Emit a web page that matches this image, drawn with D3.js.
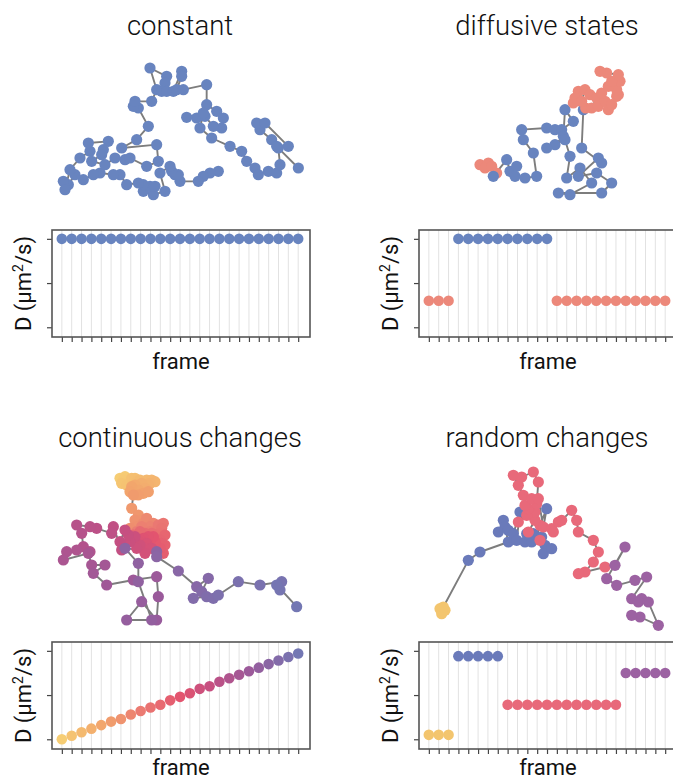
<!DOCTYPE html>
<html>
<head>
<meta charset="utf-8">
<script src="https://cdn.jsdelivr.net/npm/d3@7"></script>
<style>
  body { margin: 0; background: #fff; }
  svg { display: block; }
</style>
</head>
<body>
<div id="chart"></div>
<script>
// ---- data ----
const frames = [0, 1, 2, 3, 4, 5, 6, 7, 8, 9, 10, 11, 12, 13, 14, 15, 16, 17, 18, 19, 20, 21, 22, 23, 24];
const dTicks = [0, 0.5, 1];

// diffusion coefficient per frame (arbitrary units)
const dConstant = [1, 1, 1, 1, 1, 1, 1, 1, 1, 1, 1, 1, 1, 1, 1, 1, 1, 1, 1, 1, 1, 1, 1, 1, 1];
const dDiffusive = [0.3, 0.3, 0.3, 1, 1, 1, 1, 1, 1, 1, 1, 1, 1,
    0.3, 0.3, 0.3, 0.3, 0.3, 0.3, 0.3, 0.3, 0.3, 0.3, 0.3, 0.3];
const stateDiffusive = ['slow', 'slow', 'slow', 'fast', 'fast', 'fast', 'fast', 'fast', 'fast', 'fast', 'fast', 'fast', 'fast',
    'slow', 'slow', 'slow', 'slow', 'slow', 'slow', 'slow', 'slow', 'slow', 'slow', 'slow', 'slow'];
const dContinuous = [0.00, 0.04, 0.08, 0.12, 0.16, 0.20, 0.23, 0.28, 0.32, 0.36, 0.39, 0.44, 0.48,
    0.52, 0.57, 0.60, 0.65, 0.69, 0.73, 0.77, 0.81, 0.85, 0.89, 0.93, 0.97];
const dRandom = [0.05, 0.05, 0.05, 0.94, 0.94, 0.94, 0.94, 0.94,
    0.39, 0.39, 0.39, 0.39, 0.39, 0.39, 0.39, 0.39, 0.39, 0.39, 0.39, 0.39,
    0.75, 0.75, 0.75, 0.75, 0.75];
const stateRandom = ['a', 'a', 'a', 'b', 'b', 'b', 'b', 'b',
    'c', 'c', 'c', 'c', 'c', 'c', 'c', 'c', 'c', 'c', 'c', 'c',
    'd', 'd', 'd', 'd', 'd'];

// trajectories, positions in a.u. (x right, y down)
const trajConstant = [[505,340],[480,345],[460,355],[445,370],[390,370],[375,350],[385,350],[365,340],[360,325],[330,345],
    [345,400],[310,410],[280,400],[300,385],[315,385],[280,380],[265,375],[230,380],[210,350],[190,350],
    [150,345],[130,350],[100,365],[75,350],[55,380],[40,370],[45,395],[60,335],[90,300],[120,280],
    [115,255],[175,250],[160,275],[155,290],[125,310],[165,320],[195,300],[225,305],[240,300],[290,325],
    [325,310],[320,260],[215,270],[260,245],[295,205],[265,150],[250,145],[255,130],[305,130],[320,95],
    [300,30],[350,55],[345,75],[335,100],[350,100],[370,100],[395,40],[395,55],[380,95],[400,95],
    [470,80],[470,140],[500,160],[520,180],[515,210],[490,205],[465,175],[440,180],[410,178],[460,165],
    [450,210],[485,240],[540,265],[575,280],[590,310],[615,330],[625,350],[655,340],[680,345],[690,320],
    [685,270],[665,245],[630,215],[620,195],[645,195],[715,265],[680,265],[745,330]];

const trajDiffusiveSlowStart = [[45,320],[70,315],[60,330],[80,325],[95,345]];
const trajDiffusiveFast = [[85,355],[125,305],[135,340],[155,325],[150,355],[180,360],[215,355],[205,285],[175,245],[170,215],
    [245,210],[270,215],[290,215],[325,190],[300,155],[295,235],[270,260],[245,270],[300,245],[315,295],
    [305,360],[345,330],[380,375],[315,410],[280,405],[410,405],[440,375],[395,345],[340,355],[400,300],
    [410,315],[350,270],[355,155]];
const trajDiffusiveSlowEnd = [[362,150],[325,135],[340,100],[330,120],[350,130],[360,95],[375,110],[395,120],[380,150],[400,145],
    [420,130],[410,105],[430,155],[440,140],[455,115],[460,110],[455,95],[430,85],[465,70],[440,70],
    [460,50],[425,45],[405,40]];

const trajContinuous = [[210,40],[225,35],[220,45],[240,50],[215,55],[230,60],[245,40],[255,40],[260,50],[270,45],
    [290,45],[305,45],[315,50],[300,55],[295,60],[275,55],[285,70],[255,60],[265,75],[245,65],
    [240,80],[280,85],[295,80],[265,90],[250,90],[245,130],[265,150],[275,165],[255,165],[260,185],
    [240,190],[280,175],[290,160],[310,175],[285,190],[300,185],[275,185],[260,200],[300,200],[320,195],
    [325,180],[340,175],[335,190],[330,205],[320,210],[305,205],[285,205],[270,200],[250,210],[345,210],
    [330,225],[345,240],[335,235],[340,265],[330,250],[315,245],[315,230],[300,225],[310,215],[295,215],
    [280,220],[270,225],[265,230],[290,235],[290,250],[305,250],[285,265],[270,240],[260,250],[255,215],
    [240,230],[235,210],[225,195],[210,230],[215,255],[190,185],[185,205],[140,190],[120,185],[80,180],
    [95,205],[100,245],[120,260],[80,255],[50,260],[40,285],[115,265],[125,300],[165,300],[130,325],
    [170,360],[250,345],[320,335],[325,395],[320,465],[275,410],[230,465],[305,465],[265,350],[265,295],
    [225,250],[320,260],[320,275],[385,318],[440,365],[475,340],[455,380],[430,400],[470,395],[490,400],
    [505,390],[565,350],[630,360],[695,350],[690,375],[680,360],[740,425]];

const trajRandomA = [[45,440],[60,445],[50,455],[55,435]];
const trajRandomB = [[130,295],[165,270],[250,240],[235,175],[240,195],[220,210],[250,205],[265,215],[285,150],[275,235],
    [300,240],[320,240],[305,215],[325,215],[360,250],[355,275],[380,260],[350,225],[365,140]];
const trajRandomC = [[345,190],[330,175],[310,210],[345,235],[330,150],[305,160],[280,180],[310,140],[300,130],[295,100],
    [280,70],[265,40],[290,45],[325,30],[340,60],[335,125],[320,110],[340,110],[355,195],[380,200],
    [385,210],[400,180],[410,175],[440,145],[455,175],[460,210],[505,235],[520,270],[505,300],[480,330],
    [460,335],[540,315]];
const trajRandomD = [[570,310],[600,255],[545,350],[575,370],[630,355],[665,345],[620,410],[650,410],[640,420],[670,420],
    [700,490],[645,465],[620,460]];

// ---- styles ----
const BLUE = '#6884bf';
const SALMON = '#ec887a';
const randomColors = { a: '#f3c56e', b: '#6a7aba', c: '#e8697a', d: '#9c62a2' };
const diffusiveColors = { slow: SALMON, fast: BLUE };
const continuousColor = d3.scaleLinear()
    .domain([0, 0.17, 0.33, 0.5, 0.63, 0.8, 1])
    .range(['#f6cd74', '#f2a56c', '#eb7b72', '#e3546f', '#c44f82', '#9a5a9b', '#7377b3'])
    .interpolate(d3.interpolateRgb);
const LINE_GREY = '#7d7d7d';

const W = 673, H = 784;
const COL_DX = 367, ROW_DY = 412;
const box = { left: 52, right: 310, top: 230, bottom: 337 };
const FONT = 'Roboto, "Liberation Sans", sans-serif';

const svg = d3.select('#chart')
    .append('svg')
    .attr('width', W)
    .attr('height', H);

const withColor = (pts, color) => pts.map((p) => ({ x: p[0], y: p[1], color }));

const panels = [
    {
        title: 'constant', col: 0, row: 0, origin: [50, 58],
        points: withColor(trajConstant, BLUE),
        d: dConstant, dColor: () => BLUE
    },
    {
        title: 'diffusive states', col: 1, row: 0, origin: [98, 58],
        points: [].concat(withColor(trajDiffusiveSlowStart, SALMON), withColor(trajDiffusiveFast, BLUE),
            withColor(trajDiffusiveSlowEnd, SALMON)),
        d: dDiffusive, dColor: (i) => diffusiveColors[stateDiffusive[i]]
    },
    {
        title: 'continuous changes', col: 0, row: 1, origin: [50, 53],
        points: trajContinuous.map((p, i) => ({ x: p[0], y: p[1], color: continuousColor(i / (trajContinuous.length - 1)) })),
        d: dContinuous, dColor: (i) => continuousColor(dContinuous[i] / 0.97)
    },
    {
        title: 'random changes', col: 1, row: 1, origin: [58, 50],
        points: [].concat(withColor(trajRandomA, randomColors.a), withColor(trajRandomB, randomColors.b),
            withColor(trajRandomC, randomColors.c), withColor(trajRandomD, randomColors.d)),
        d: dRandom, dColor: (i) => randomColors[stateRandom[i]]
    }
];

panels.forEach((p) => {
    const g = svg.append('g')
        .attr('transform', 'translate(' + (p.col * COL_DX) + ',' + (p.row * ROW_DY) + ')');

    // Title
    g.append('text')
        .attr('x', 180)
        .attr('y', 35)
        .attr('text-anchor', 'middle')
        .attr('font-family', FONT)
        .attr('font-weight', 300)
        .attr('font-size', 27.5)
        .attr('fill', '#111')
        .text(p.title);

    // Trajectory
    const tx = d3.scaleLinear().domain([0, 780]).range([p.origin[0], p.origin[0] + 260]);
    const ty = d3.scaleLinear().domain([0, 510]).range([p.origin[1], p.origin[1] + 170]);

    g.append('path')
        .datum(p.points)
        .attr('fill', 'none')
        .attr('stroke', LINE_GREY)
        .attr('stroke-width', 1.9)
        .attr('stroke-linejoin', 'round')
        .attr('d', d3.line().x((d) => tx(d.x)).y((d) => ty(d.y)));

    g.selectAll('.traj')
        .data(p.points)
        .enter()
        .append('circle')
        .attr('class', 'traj')
        .attr('cx', (d) => tx(d.x))
        .attr('cy', (d) => ty(d.y))
        .attr('r', 5.6)
        .attr('fill', (d) => d.color);

    // D vs frame plot
    const xScale = d3.scaleLinear().domain([-1, 25.2]).range([box.left, box.right]);
    const yScale = d3.scaleLinear().domain([-0.11, 1.1]).range([box.bottom, box.top]);

    g.selectAll('.grid')
        .data(frames)
        .enter()
        .append('line')
        .attr('class', 'grid')
        .attr('x1', (d) => xScale(d))
        .attr('x2', (d) => xScale(d))
        .attr('y1', box.top)
        .attr('y2', box.bottom)
        .attr('stroke', '#e2e2e2')
        .attr('stroke-width', 1);

    const xAxis = d3.axisBottom(xScale).tickValues(frames).tickSize(5).tickFormat('');
    const yAxis = d3.axisLeft(yScale).tickValues(dTicks).tickSize(5).tickFormat('');

    g.append('g')
        .attr('transform', 'translate(0,' + box.bottom + ')')
        .call(xAxis)
        .call((a) => a.select('.domain').remove())
        .call((a) => a.selectAll('line').attr('stroke', '#444').attr('stroke-width', 1.2));

    g.append('g')
        .attr('transform', 'translate(' + box.left + ',0)')
        .call(yAxis)
        .call((a) => a.select('.domain').remove())
        .call((a) => a.selectAll('line').attr('stroke', '#444').attr('stroke-width', 1.2));

    g.append('rect')
        .attr('x', box.left)
        .attr('y', box.top)
        .attr('width', box.right - box.left)
        .attr('height', box.bottom - box.top)
        .attr('fill', 'none')
        .attr('stroke', '#555')
        .attr('stroke-width', 1.6);

    g.selectAll('.dpt')
        .data(p.d)
        .enter()
        .append('circle')
        .attr('class', 'dpt')
        .attr('cx', (d, i) => xScale(frames[i]))
        .attr('cy', (d) => yScale(d))
        .attr('r', 5.3)
        .attr('fill', (d, i) => p.dColor(i));

    // Axis labels
    g.append('text')
        .attr('x', 181)
        .attr('y', 369 - 6 * p.row)
        .attr('text-anchor', 'middle')
        .attr('font-family', FONT)
        .attr('font-size', 22)
        .attr('fill', '#111')
        .text('frame');

    const yl = g.append('text')
        .attr('transform', 'translate(31,' + ((box.top + box.bottom) / 2) + ') rotate(-90)')
        .attr('text-anchor', 'middle')
        .attr('font-family', FONT)
        .attr('font-size', 22)
        .attr('fill', '#111');
    yl.append('tspan').text('D (μm');
    yl.append('tspan').attr('dy', -8).attr('font-size', 14).text('2');
    yl.append('tspan').attr('dy', 8).text('/s)');
});
</script>
</body>
</html>
